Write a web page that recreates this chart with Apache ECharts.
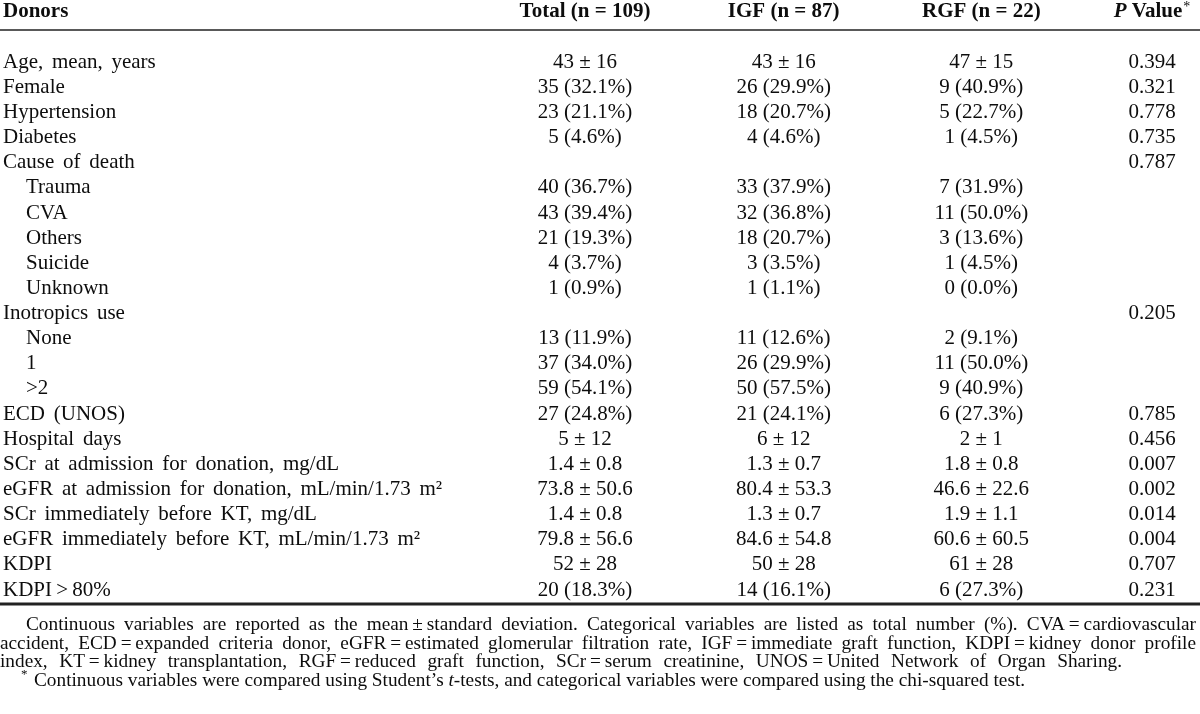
<!DOCTYPE html>
<html>
<head>
<meta charset="utf-8">
<script src="https://cdn.jsdelivr.net/npm/echarts@6/dist/echarts.min.js"></script>
<style>html,body{margin:0;padding:0;background:#fff}#c{width:1200px;height:714px}</style>
</head>
<body>
<div id="c"></div>
<script>
// ---------- data ----------
const headerLabel = 'Donors';
const columnHeaders = ['Total (n = 109)', 'IGF (n = 87)', 'RGF (n = 22)', 'P Value*'];
const rowLabels = ['Age, mean, years','Female','Hypertension','Diabetes','Cause of death','Trauma','CVA','Others','Suicide','Unknown','Inotropics use','None','1','>2','ECD (UNOS)','Hospital days','SCr at admission for donation, mg/dL','eGFR at admission for donation, mL/min/1.73 m²','SCr immediately before KT, mg/dL','eGFR immediately before KT, mL/min/1.73 m²','KDPI','KDPI > 80%'];
const indentedRows = ['Trauma','CVA','Others','Suicide','Unknown','None','1','>2'];
const totalValues = ['43 ± 16','35 (32.1%)','23 (21.1%)','5 (4.6%)','','40 (36.7%)','43 (39.4%)','21 (19.3%)','4 (3.7%)','1 (0.9%)','','13 (11.9%)','37 (34.0%)','59 (54.1%)','27 (24.8%)','5 ± 12','1.4 ± 0.8','73.8 ± 50.6','1.4 ± 0.8','79.8 ± 56.6','52 ± 28','20 (18.3%)'];
const igfValues = ['43 ± 16','26 (29.9%)','18 (20.7%)','4 (4.6%)','','33 (37.9%)','32 (36.8%)','18 (20.7%)','3 (3.5%)','1 (1.1%)','','11 (12.6%)','26 (29.9%)','50 (57.5%)','21 (24.1%)','6 ± 12','1.3 ± 0.7','80.4 ± 53.3','1.3 ± 0.7','84.6 ± 54.8','50 ± 28','14 (16.1%)'];
const rgfValues = ['47 ± 15','9 (40.9%)','5 (22.7%)','1 (4.5%)','','7 (31.9%)','11 (50.0%)','3 (13.6%)','1 (4.5%)','0 (0.0%)','','2 (9.1%)','11 (50.0%)','9 (40.9%)','6 (27.3%)','2 ± 1','1.8 ± 0.8','46.6 ± 22.6','1.9 ± 1.1','60.6 ± 60.5','61 ± 28','6 (27.3%)'];
const pValues = ['0.394','0.321','0.778','0.735','0.787','','','','','','0.205','','','','0.785','0.456','0.007','0.002','0.014','0.004','0.707','0.231'];
const footnoteLines = [
  'Continuous variables are reported as the mean ± standard deviation. Categorical variables are listed as total number (%). CVA = cardiovascular',
  'accident, ECD = expanded criteria donor, eGFR = estimated glomerular filtration rate, IGF = immediate graft function, KDPI = kidney donor profile',
  'index, KT = kidney transplantation, RGF = reduced graft function, SCr = serum creatinine, UNOS = United Network of Organ Sharing.'
];
const footnoteStar = 'Continuous variables were compared using Student’s {it|t}-tests, and categorical variables were compared using the chi-squared test.';

// ---------- build ----------
const FF = '"Liberation Serif", "Times New Roman", serif';
const INK = '#0d0d0d';
const yCats = [headerLabel, ''].concat(rowLabels);
const xCats = columnHeaders;
const columns = [totalValues, igfValues, rgfValues, pValues];
const colNudge = [-6, 3, 11, -8];

const cells = [];
columnHeaders.forEach((h, c) => cells.push([c, 0, h, 1]));
columns.forEach((vals, c) => vals.forEach((v, r) => { if (v !== '') cells.push([c, r + 2, v, 0]); }));

const chart = echarts.init(document.getElementById('c'), null, {renderer: 'canvas'});

const GRID_LEFT = 588, GRID_TOP = 12, GRID_RIGHT = 40, GRID_BOTTOM = 124;

// footnotes
const FN_SIZE = 19.3;
const FN_FONT = FN_SIZE + 'px ' + FF;
const mctx = document.createElement('canvas').getContext('2d');
function justified(text, x0, x1, y) {
  mctx.font = FN_FONT;
  const words = text.replace(/ = /g, '\u2009=\u2009').replace(/ ± /g, '\u2009±\u2009').split(' ');
  const widths = words.map(w => mctx.measureText(w).width);
  const total = widths.reduce((a, b) => a + b, 0);
  const gap = (x1 - x0 - total) / (words.length - 1);
  let x = x0;
  return words.map((w, i) => {
    const el = {type: 'text', x: x, y: y, style: {text: w, font: FN_FONT, fill: INK, verticalAlign: 'middle'}};
    x += widths[i] + gap;
    return el;
  });
}
const graphics = [
  {type: 'line', shape: {x1: 0, y1: 30, x2: 1200, y2: 30}, style: {stroke: '#222', lineWidth: 1.5}},
  {type: 'line', shape: {x1: 0, y1: 604, x2: 1200, y2: 604}, style: {stroke: '#222', lineWidth: 3}}
].concat(justified(footnoteLines[0], 26, 1196, 625))
 .concat(justified(footnoteLines[1], 0, 1196, 643.5))
 .concat(justified(footnoteLines[2], 0, 1122, 662))
 .concat([
   {type: 'text', x: 21, y: 675, style: {text: '*', fontSize: 13, fontFamily: FF, fill: INK, verticalAlign: 'middle'}},
   {type: 'text', x: 34, y: 680.5, style: {text: footnoteStar, fontSize: FN_SIZE, fontFamily: FF, fill: INK, verticalAlign: 'middle',
     rich: {it: {fontSize: FN_SIZE, fontFamily: FF, fontStyle: 'italic', fill: INK}}}}
 ]);

function widen(s) {
  return s.replace(/ > /g, '\u2009>\u2009').replace(/ /g, ' \u2006');
}

chart.setOption({
  backgroundColor: '#fff',
  animation: false,
  grid: {left: GRID_LEFT, top: GRID_TOP, right: GRID_RIGHT, bottom: GRID_BOTTOM},
  xAxis: {type: 'category', data: xCats, boundaryGap: false, show: false},
  yAxis: {
    type: 'category', data: yCats, inverse: true, boundaryGap: false,
    axisLine: {show: false}, axisTick: {show: false}, splitLine: {show: false},
    axisLabel: {
      interval: 0, margin: GRID_LEFT, align: 'left', verticalAlign: 'middle',
      fontFamily: FF, fontSize: 21, color: INK,
      formatter: function (v, i) {
        if (i === 0) return '{hdr|' + v + '}';
        if (indentedRows.indexOf(v) >= 0) return '{ind|' + v + '}';
        return widen(v);
      },
      rich: {
        hdr: {fontFamily: FF, fontSize: 21, fontWeight: 'bold', color: INK},
        ind: {fontFamily: FF, fontSize: 21, color: INK, padding: [0, 0, 0, 23]}
      }
    }
  },
  graphic: {elements: graphics},
  series: [{
    type: 'custom',
    coordinateSystem: 'cartesian2d',
    data: cells,
    encode: {x: 0, y: 1},
    renderItem: function (params, api) {
      const d = cells[params.dataIndex];
      const p = api.coord([d[0], d[1]]);
      let text = d[2];
      const style = {fill: INK, fontFamily: FF, fontSize: 21, fontWeight: d[3] ? 'bold' : 'normal', align: 'center', verticalAlign: 'middle'};
      if (d[3] && text.indexOf('P Value') === 0) {
        text = '{pi|P} {b|Value}{sup|*}';
        style.rich = {
          pi: {fontFamily: FF, fontSize: 21, fontWeight: 'bold', fontStyle: 'italic', fill: INK},
          b: {fontFamily: FF, fontSize: 21, fontWeight: 'bold', fill: INK},
          sup: {fontFamily: FF, fontSize: 14, fill: INK, padding: [0, 0, 10, 1]}
        };
      }
      style.text = text;
      return {type: 'text', x: p[0] + colNudge[d[0]], y: p[1], style: style};
    }
  }]
});
</script>
</body>
</html>
